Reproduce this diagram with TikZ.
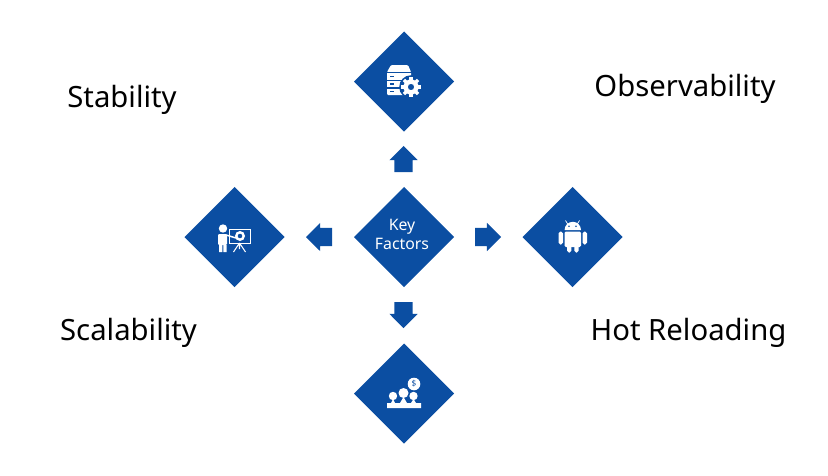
\documentclass[tikz,border=0pt]{standalone}
\usepackage{fontspec}
\setmainfont{Noto Sans}
\usetikzlibrary{shapes.geometric,shapes.arrows}
\definecolor{keyblue}{HTML}{0B4EA2}

\begin{document}
\begin{tikzpicture}[
  factor/.style={diamond,fill=keyblue,inner sep=0pt,outer sep=0pt,minimum size=3cm,aspect=1},
  pointer/.style={single arrow,fill=keyblue,inner sep=0pt,inner ysep=0.27cm,outer sep=0pt,minimum height=0.78cm,minimum width=0.84cm,single arrow head extend=0.15cm,anchor=tail,rotate=#1},
  caption/.style={anchor=base,font=\fontsize{25}{30}\selectfont,text=black},
  icon/.style={fill=white,draw=none},
  x=0.03cm,y=-0.03cm
]
  \useasboundingbox (0,0) rectangle (828,476);
  \node[factor] (center) at (404,237) {};
  \node[text=white,align=center,inner sep=0pt,font=\fontsize{13.5}{16.2}\selectfont] (key) at (402,234) {Key\\Factors};
  \foreach \n/\xx/\yy in {top/404/81.5,left/234.5/237,right/572.5/237,bottom/404/393.5}
    \node[factor] (\n) at (\xx,\yy) {};
  \foreach \n/\xx/\yy/\r in {up/403.5/172/90,west/332/237/180,east/475/237/0,down/403.5/302/270}
    \node[pointer=\r] (\n) at (\xx,\yy) {};
  \node[caption] (stability) at (122,107) {Stability};
  \node[caption] (observability) at (685,96) {Observability};
  \node[caption] (scalability) at (128.5,340) {Scalability};
  \node[caption] (reloading) at (688.5,340) {Hot Reloading};
  % server and gear
  \fill[icon,rounded corners=1pt] (387,72) -- (391,65) -- (408,65) -- (411,72) -- (411,95) -- (387,95) -- cycle;
  \foreach \yy in {72.5,80.5,88}
    \fill[keyblue] (387,\yy-0.6) rectangle (411,\yy+0.6);
  \foreach \yy in {76.5,84,91.5}
    \fill[keyblue] (390,\yy-0.9) rectangle (394,\yy+0.9);
  \fill[keyblue] (411,87) circle (11.8);
  \foreach \a in {0,45,...,315}
    \fill[icon,rotate around={\a:(411,87)}] (409.4,77) rectangle (412.6,82);
  \fill[icon,even odd rule] (411,87) circle (7.6) (411,87) circle (3.2);
  % presenter and board
  \fill[icon] (223,228.5) circle (4.2);
  \fill[icon,rounded corners=1pt] (218,234) rectangle (227,245);
  \fill[icon] (219,245) rectangle (222.3,252) (223.3,245) rectangle (226.5,252);
  \draw[white,line width=1.3pt] (226,235) -- (236,238);
  \draw[white,line width=0.8pt] (229.5,229.5) rectangle (250.5,243);
  \fill[icon,even odd rule] (240,236) circle (5) (240,236) circle (2.4);
  \draw[white,line width=0.9pt] (239.5,243) -- (233.5,252) (239.5,243) -- (245.5,252) (239.5,243) -- (239.5,249);
  % android
  \fill[icon] (564.6,230) arc[start angle=180,end angle=360,radius=8.2] -- cycle;
  \draw[white,line width=0.6pt] (568,224.5) -- (565.5,220.5) (577,224.5) -- (579.5,220.5);
  \fill[keyblue] (569,226.3) circle (0.9) (576,226.3) circle (0.9);
  \fill[icon,rounded corners=1.2pt] (564.5,231.5) rectangle (581,247);
  \fill[icon,rounded corners=1.5pt] (558.5,231.5) rectangle (563,244.5) (582.5,231.5) rectangle (587,244.5);
  \fill[icon,rounded corners=1.5pt] (567,243) rectangle (571.3,252.5) (574.3,243) rectangle (578.6,252.5);
  % audience and dollar
  \fill[icon] (414,384) circle (6.3);
  \node[font=\fontsize{7}{8}\selectfont,text=keyblue,inner sep=0pt] (dollar) at (414,384) {\$};
  \fill[icon] (393,396) circle (4.2) (403.5,393) circle (5) (413.5,396) circle (4.2);
  \fill[icon] (387,408) -- (387,403) -- (391,403) -- (393,399) -- (395,403) -- (400,403) -- (403.5,397) -- (407,403) -- (411,403) -- (413.5,399) -- (416,403) -- (421,403) -- (421,408) -- cycle;
\end{tikzpicture}
\end{document}
